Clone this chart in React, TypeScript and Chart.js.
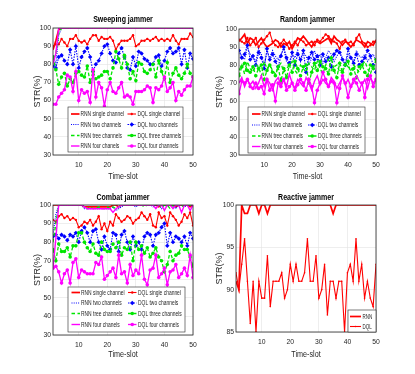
import React, { useEffect, useRef } from "react";
import { Chart, registerables } from "chart.js";
Chart.register(...registerables);

// ---------------- DATA ----------------
const timeSlots = [1,2,3,4,5,6,7,8,9,10,11,12,13,14,15,16,17,18,19,20,21,22,23,24,25,26,27,28,29,30,31,32,33,34,35,36,37,38,39,40,41,42,43,44,45,46,47,48,49,50];
const xTicks = [10, 20, 30, 40, 50];
const yTicksMain = [30, 40, 50, 60, 70, 80, 90, 100];
const yTicksReactive = [85, 90, 95, 100];

// Sweeping jammer
const swRnn1 = [88,93,99,100,100,100,100,100,100,100, 100,100,100,100,100,100,100,100,100,100, 100,100,100,100,100,100,100,100,100,100, 100,100,100,100,100,100,100,100,100,100, 100,100,100,100,100,100,100,100,100,100];
const swDql1 = [90,91,91,94,92,90,94,94,96,93, 92,93,91,94,96,96,93,95,94,94, 95,93,88,91,93,93,93,94,96,90, 91,93,93,94,93,94,95,93,94,93, 94,93,96,93,91,94,94,94,97,95];
const swRnn2 = [85,80,96,100,100,100,100,100,100,100, 100,100,100,100,100,100,100,100,100,100, 100,100,100,100,100,100,100,100,100,100, 100,100,100,100,100,100,100,100,100,100, 100,100,100,100,100,100,100,100,100,100];
const swDql2 = [79,78,84,85,82,80,88,80,90,78, 84,87,89,84,76,80,82,86,90,91, 86,82,81,86,89,84,78,77,84,79, 87,86,83,82,80,80,84,85,79,82, 87,89,86,87,89,80,88,78,86,83];
const swRnn3 = [83,86,97,100,100,100,100,100,100,100, 100,100,100,100,100,100,100,100,100,100, 100,100,100,100,100,100,100,100,100,100, 100,100,100,100,100,100,100,100,100,100, 100,100,100,100,100,100,100,100,100,100];
const swDql3 = [84,77,69,73,75,68,72,70,75,76, 74,73,79,70,76,72,73,74,76,76, 72,78,87,83,78,85,80,72,76,71, 81,80,76,75,77,80,73,82,76,72, 81,70,75,78,74,72,75,80,75,73];
const swRnn4 = [80,86,100,100,100,100,100,100,100,100, 100,100,100,100,100,100,100,100,100,100, 100,100,100,100,100,100,100,100,100,100, 100,100,100,100,100,100,100,100,100,100, 100,100,100,100,100,100,100,100,100,100];
const swDql4 = [58,58,62,64,66,74,73,65,76,60, 66,64,65,59,77,62,70,67,57,66, 70,65,64,67,70,62,63,62,58,65, 65,65,66,68,67,59,67,66,68,73, 65,67,70,60,65,63,66,68,68,73];

// Random jammer
const rdRnn1 = [93,95,97,92,95,94,91,93,95,92, 90,91,92,94,93,90,92,91,93,89, 92,95,94,96,94,92,90,93,93,92, 93,94,95,92,96,94,93,91,93,92, 90,92,94,93,92,90,93,92,91,94];
const rdDql1 = [94,93,92,95,91,93,95,90,92,94, 96,98,93,91,90,92,94,92,89,91, 93,91,94,93,91,92,93,91,94,93, 95,97,96,94,93,92,89,93,94,92, 93,91,95,97,93,92,90,91,93,93];
const rdRnn2 = [88,85,83,90,86,84,82,89,86,80, 87,84,88,85,83,86,89,82,80,86, 84,88,82,87,85,80,84,88,83,86, 81,84,88,86,82,85,87,84,80,86, 84,82,88,85,84,86,82,84,86,82];
const rdDql2 = [88,84,86,91,83,85,80,87,84,78, 89,83,86,82,79,85,90,84,81,87, 80,86,83,88,76,84,87,83,85,80, 86,82,84,79,86,88,87,83,80,89, 84,81,86,80,82,84,88,85,80,76];
const rdRnn3 = [77,80,75,82,78,76,80,79,74,82, 78,80,77,75,79,81,76,78,80,82, 77,75,80,78,76,81,79,77,82,78, 75,80,83,77,79,80,76,78,81,79, 77,80,78,76,80,82,78,75,80,82];
const rdDql3 = [74,79,81,77,76,79,74,78,80,72, 77,80,76,74,79,71,78,73,80,76, 82,78,74,79,80,70,76,81,77,82, 79,78,75,84,77,73,81,76,80,82, 75,78,73,79,80,76,74,80,78,83];
const rdRnn4 = [70,73,68,72,69,71,67,70,74,68, 72,70,66,71,73,69,72,68,75,70, 67,72,70,68,73,70,66,71,74,69, 72,70,68,73,71,67,70,73,69,72, 68,70,74,71,69,72,67,73,70,72];
const rdDql4 = [64,71,70,72,68,67,70,67,68,64, 72,66,69,60,70,68,72,66,68,70, 66,69,72,70,66,72,68,59,66,70, 76,72,68,71,70,59,67,74,70,62, 68,72,70,66,70,62,72,74,68,72];

// Combat jammer
const cbRnn1 = [100,100,100,100,100,100,100,100,100,100, 100,99,99,99,99,99,99,99,99,99, 99,100,100,99,100,100,100,100,100,100, 100,100,100,100,100,100,100,99,100,100, 100,100,100,99,100,100,100,100,99,100];
const cbDql1 = [92,91,94,95,93,94,92,93,92,88, 89,91,90,92,89,91,94,87,90,86, 91,89,95,93,91,92,94,93,90,92, 93,96,94,92,95,89,88,96,93,94, 89,96,94,92,89,91,95,93,96,89];
const cbRnn2 = [84,95,100,100,100,100,100,100,100,100, 100,98,98,98,98,98,98,98,98,98, 98,99,97,98,99,100,100,100,100,99, 100,100,100,100,100,99,100,100,98,100, 99,100,100,98,100,100,99,100,100,100];
const cbDql2 = [83,84,82,84,83,81,84,83,85,80, 86,88,85,80,86,87,80,76,83,78, 76,85,84,75,84,86,80,76,83,78, 80,76,83,85,84,78,84,85,88,90, 78,85,80,83,82,80,83,78,85,82];
const cbRnn3 = [80,90,100,100,100,100,100,100,100,100, 100,99,98,99,98,98,99,98,98,99, 98,99,98,99,100,100,100,100,100,100, 100,100,99,100,100,100,100,100,99,100, 100,98,100,100,100,99,100,100,100,99];
const cbDql3 = [76,70,79,75,75,77,72,78,78,85, 85,80,77,75,79,74,73,80,76,75, 75,79,77,80,73,77,76,80,70,80, 76,78,74,77,72,74,77,72,70,64, 68,75,70,73,74,78,76,76,72,67];
const cbRnn4 = [66,82,100,100,100,100,100,100,100,100, 100,99,98,98,98,98,98,98,98,98, 98,96,98,99,100,100,100,100,100,100, 100,100,100,100,100,100,98,100,100,97, 100,100,98,100,100,96,100,100,97,100];
const cbDql4 = [66,67,64,58,63,65,58,69,71,61, 65,64,63,63,63,69,68,72,60,62, 64,66,61,73,63,64,58,68,62,65, 63,73,60,57,65,66,73,61,63,66, 57,64,65,68,61,63,66,62,73,61];

// Reactive jammer
const rcRnn = [91,90,100,99,99,100,100,100,99,100, 100,99,100,100,100,100,100,100,100,100, 100,100,100,100,100,100,100,100,100,100, 100,100,100,100,99,100,100,100,100,100, 100,100,100,100,100,100,100,100,100,100];
const rcDql = [92,90,93,96,91,86,91,85,91,89, 89,94,88,91,91,91,92,89,90,93, 91,93,91,91,92,96,91,91,94,89, 90,93,87,91,91,89,91,91,85,92, 93,91,96,91,93,89,91,89,88,93];

const labels8a = ["RNN single channel", "DQL single channel", "RNN two channels", "DQL two channels", "RNN tree channels", "DQL three channels", "RNN four chanels", "DQL four channels"];
const labels8b = ["RNN single channel", "DQL single channel", "RNN two channels", "DQL two channels", "RNN tree channels", "DQL three channels", "RNN four channels", "DQL four channels"];
const labels2 = ["RNN", "DQL"];

// ---------------- STYLES ----------------
const RED = "#ff0000", BLUE = "#0000ff", GREEN = "#00e600", MAG = "#ff00ff";
type St = { color: string; width: number; dash: number[]; marker?: "circle" | "rectRot"; r?: number };
const st8: St[] = [
  { color: RED, width: 1.7, dash: [] },
  { color: RED, width: 1.1, dash: [], marker: "circle", r: 1.2 },
  { color: BLUE, width: 1.1, dash: [1, 1.2] },
  { color: BLUE, width: 1.1, dash: [1.5, 1.2], marker: "rectRot", r: 2.2 },
  { color: GREEN, width: 1.3, dash: [3.5, 2.5] },
  { color: GREEN, width: 1.3, dash: [3.5, 2], marker: "circle", r: 1.8 },
  { color: MAG, width: 1.4, dash: [] },
  { color: MAG, width: 1.3, dash: [], marker: "circle", r: 1.8 },
];
const st2: St[] = [
  { color: RED, width: 1.7, dash: [] },
  { color: RED, width: 1.1, dash: [], marker: "circle", r: 0.8 },
];

const FONT = '"Liberation Sans", Arial, sans-serif';

type Legend = { x: number; y: number; w: number; h: number; rows: number[]; cols: { ls: number; ll: number; tx: number }[]; colOf: number[]; rowOf: number[]; sx: number };
type Panel = {
  left: number; top: number; w: number; h: number;
  ca: { l: number; t: number; r: number; b: number };
  title: string; titleY: number; yLabelX: number; xLabelY: number;
  yMin: number; yMax: number; yTicks: number[];
  series: number[][]; labels: string[]; styles: St[];
  legend: Legend;
};

const legend8 = (x: number, y: number, w: number, h: number, rows: number[], c1: number, t1: number, c2: number, t2: number): Legend => ({
  x, y, w, h, rows,
  cols: [{ ls: c1, ll: 8.5, tx: t1 }, { ls: c2, ll: 8.5, tx: t2 }],
  colOf: [0, 1, 0, 1, 0, 1, 0, 1],
  rowOf: [0, 0, 1, 1, 2, 2, 3, 3],
  sx: 0.77,
});

const panels: Panel[] = [
  {
    left: 0, top: 0, w: 207, h: 187, ca: { l: 53, t: 28, r: 193, b: 155 },
    title: "Sweeping jammer", titleY: 20, yLabelX: 38, xLabelY: 177,
    yMin: 30, yMax: 100, yTicks: yTicksMain,
    series: [swRnn1, swDql1, swRnn2, swDql2, swRnn3, swDql3, swRnn4, swDql4], labels: labels8a, styles: st8,
    legend: legend8(68, 107, 115, 45, [114, 124.5, 135.5, 146], 71, 80.5, 127.5, 137.5),
  },
  {
    left: 207, top: 0, w: 208, h: 187, ca: { l: 32, t: 29, r: 169, b: 155 },
    title: "Random jammer", titleY: 20, yLabelX: 13, xLabelY: 177,
    yMin: 30, yMax: 100, yTicks: yTicksMain,
    series: [rdRnn1, rdDql1, rdRnn2, rdDql2, rdRnn3, rdDql3, rdRnn4, rdDql4], labels: labels8b, styles: st8,
    legend: legend8(41, 107, 117, 46, [114, 125, 136, 146.5], 45, 54.5, 101, 111),
  },
  {
    left: 0, top: 187, w: 207, h: 187, ca: { l: 53, t: 18, r: 193, b: 148 },
    title: "Combat jammer", titleY: 11, yLabelX: 38, xLabelY: 168,
    yMin: 30, yMax: 100, yTicks: yTicksMain,
    series: [cbRnn1, cbDql1, cbRnn2, cbDql2, cbRnn3, cbDql3, cbRnn4, cbDql4], labels: labels8a, styles: st8,
    legend: legend8(68, 100, 117, 45, [105.5, 116, 126.5, 137.5], 71.5, 81, 128, 138),
  },
  {
    left: 207, top: 187, w: 208, h: 187, ca: { l: 29, t: 18, r: 169, b: 145 },
    title: "Reactive jammer", titleY: 11, yLabelX: 13, xLabelY: 168,
    yMin: 85, yMax: 100, yTicks: yTicksReactive,
    series: [rcRnn, rcDql], labels: labels2, styles: st2,
    legend: { x: 141, y: 123, w: 28, h: 22, rows: [129.5, 139.5], cols: [{ ls: 143, ll: 11, tx: 155.5 }], colOf: [0, 0], rowOf: [0, 1], sx: 0.7 },
  },
];

function drawMarker(ctx: CanvasRenderingContext2D, s: St, x: number, y: number) {
  if (!s.marker) return;
  const r = s.r || 1.5;
  ctx.save();
  ctx.setLineDash([]);
  ctx.fillStyle = s.color;
  ctx.beginPath();
  if (s.marker === "circle") ctx.arc(x, y, r, 0, Math.PI * 2);
  else { ctx.moveTo(x, y - r); ctx.lineTo(x + r, y); ctx.lineTo(x, y + r); ctx.lineTo(x - r, y); ctx.closePath(); }
  ctx.fill();
  ctx.restore();
}

// draw text compressed horizontally (narrow look of the original)
function narrow(ctx: CanvasRenderingContext2D, txt: string, x: number, y: number, sx: number) {
  ctx.save();
  ctx.translate(x, y);
  ctx.scale(sx, 1);
  ctx.fillText(txt, 0, 0);
  ctx.restore();
}

function makeDecor(p: Panel) {
  return {
    id: "decor",
    afterDraw(chart: any) {
      const ctx: CanvasRenderingContext2D = chart.ctx;
      const a = chart.chartArea;
      ctx.save();
      // axes box
      ctx.strokeStyle = "#262626";
      ctx.lineWidth = 0.8;
      ctx.setLineDash([]);
      ctx.strokeRect(a.left, a.top, a.right - a.left, a.bottom - a.top);
      // title
      ctx.fillStyle = "#000";
      ctx.textAlign = "center";
      ctx.textBaseline = "middle";
      ctx.font = `bold 9px ${FONT}`;
      narrow(ctx, p.title, (a.left + a.right) / 2, p.titleY, 0.78);
      // x label
      ctx.fillStyle = "#262626";
      ctx.font = `9px ${FONT}`;
      narrow(ctx, "Time-slot", (a.left + a.right) / 2, p.xLabelY, 0.8);
      // y label
      ctx.save();
      ctx.translate(p.yLabelX, (a.top + a.bottom) / 2);
      ctx.rotate(-Math.PI / 2);
      ctx.fillText("STR(%)", 0, 0);
      ctx.restore();
      // legend
      const L = p.legend;
      ctx.fillStyle = "#fff";
      ctx.fillRect(L.x, L.y, L.w, L.h);
      ctx.strokeStyle = "#262626";
      ctx.lineWidth = 0.6;
      ctx.strokeRect(L.x, L.y, L.w, L.h);
      ctx.font = `6.4px ${FONT}`;
      ctx.textAlign = "left";
      p.labels.forEach((lab, i) => {
        const s = p.styles[i];
        const c = L.cols[L.colOf[i]];
        const y = L.rows[L.rowOf[i]];
        ctx.strokeStyle = s.color;
        ctx.lineWidth = s.width;
        ctx.setLineDash(s.dash);
        ctx.beginPath();
        ctx.moveTo(c.ls, y);
        ctx.lineTo(c.ls + c.ll, y);
        ctx.stroke();
        drawMarker(ctx, s, c.ls + c.ll / 2, y);
        ctx.fillStyle = "#262626";
        narrow(ctx, lab, c.tx, y + 0.5, L.sx);
      });
      ctx.restore();
    },
  };
}

function ChartPanel({ p }: { p: Panel }) {
  const ref = useRef<HTMLCanvasElement>(null);
  useEffect(() => {
    const n = p.series.length;
    const datasets = p.series.map((vals, i) => {
      const s = p.styles[i];
      return {
        label: p.labels[i],
        data: vals.map((v, k) => ({ x: timeSlots[k], y: v })),
        borderColor: s.color,
        backgroundColor: s.color,
        borderWidth: s.width,
        borderDash: s.dash,
        pointRadius: s.marker ? s.r : 0,
        pointStyle: s.marker || "circle",
        pointBorderWidth: 0,
        pointBackgroundColor: s.color,
        tension: 0,
        fill: false,
        order: n - i,
      };
    });
    const tickFont = { family: FONT, size: 6.8 };
    const chart = new Chart(ref.current as HTMLCanvasElement, {
      type: "line",
      data: { datasets },
      options: {
        responsive: false,
        animation: false,
        devicePixelRatio: 1,
        events: [],
        layout: { padding: { left: 0, top: p.ca.t, right: p.w - p.ca.r, bottom: 0 } },
        plugins: { legend: { display: false }, tooltip: { enabled: false }, title: { display: false } },
        scales: {
          x: {
            type: "linear", min: 1, max: 50,
            afterBuildTicks: (s: any) => { s.ticks = xTicks.map((v) => ({ value: v })); },
            afterFit: (s: any) => { s.height = p.h - p.ca.b; },
            grid: { color: "#e3e3e3", lineWidth: 0.6, drawTicks: false },
            border: { display: false },
            ticks: { font: tickFont, color: "#262626", padding: 6, maxRotation: 0, autoSkip: false },
          },
          y: {
            type: "linear", min: p.yMin, max: p.yMax,
            afterBuildTicks: (s: any) => { s.ticks = p.yTicks.map((v) => ({ value: v })); },
            afterFit: (s: any) => { s.width = p.ca.l; },
            grid: { color: "#e3e3e3", lineWidth: 0.6, drawTicks: false },
            border: { display: false },
            ticks: { font: tickFont, color: "#262626", padding: 2, autoSkip: false },
          },
        },
      } as any,
      plugins: [makeDecor(p)],
    });
    return () => chart.destroy();
  }, []);
  return (
    <canvas
      ref={ref}
      width={p.w}
      height={p.h}
      style={{ position: "absolute", left: p.left, top: p.top, width: p.w, height: p.h }}
    />
  );
}

export default function App() {
  return (
    <div style={{ position: "fixed", left: 0, top: 0, width: 415, height: 374, background: "#fff", overflow: "hidden" }}>
      {panels.map((p, i) => (
        <ChartPanel key={i} p={p} />
      ))}
    </div>
  );
}
